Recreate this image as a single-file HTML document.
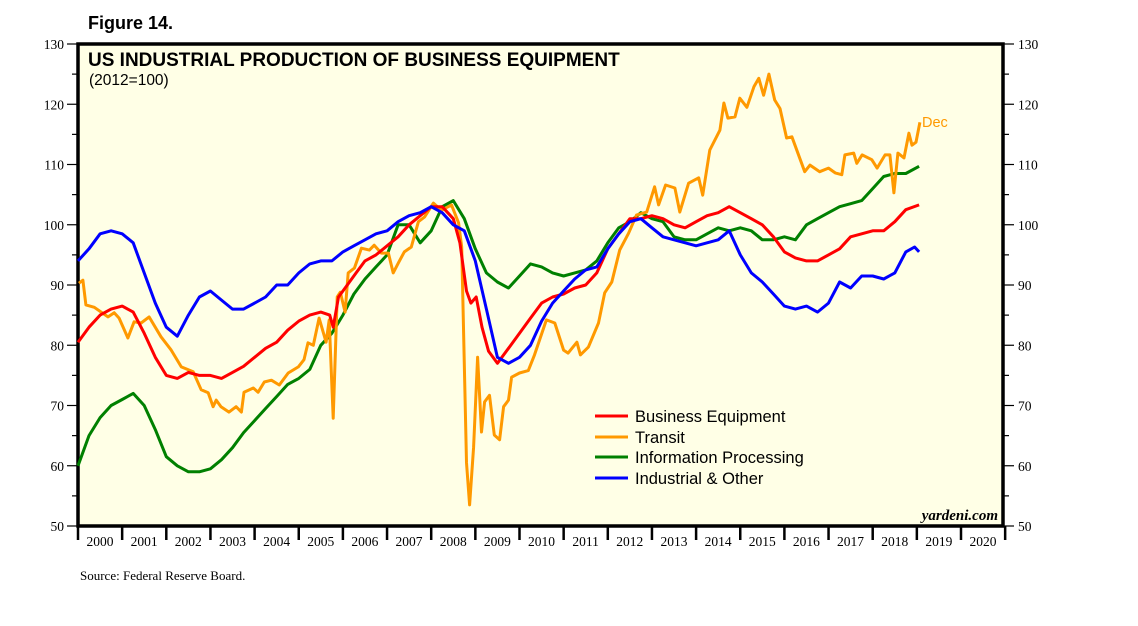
<!DOCTYPE html>
<html><head><meta charset="utf-8"><style>
body{margin:0;background:#fff;width:1138px;height:621px;overflow:hidden}
svg text{font-family:"Liberation Sans",sans-serif}
.serif{font-family:"Liberation Serif",serif!important}
</style></head><body>
<svg id="chart" width="1138" height="621" xmlns="http://www.w3.org/2000/svg">
<rect x="78" y="44" width="925" height="482" fill="#FFFFE6"/>
<text x="88" y="29" font-size="18" font-weight="bold">Figure 14.</text>
<text x="88" y="66" font-size="19" font-weight="bold">US INDUSTRIAL PRODUCTION OF BUSINESS EQUIPMENT</text>
<text x="89" y="85" font-size="15.5">(2012=100)</text>
<g id="axes"></g>
<g id="series"></g>
<text x="922" y="127" font-size="14.5" fill="#FF9900">Dec</text>
<text x="998" y="520" font-size="15" font-style="italic" font-weight="bold" text-anchor="end" class="serif">yardeni.com</text>
<text x="80" y="580" font-size="13" class="serif">Source: Federal Reserve Board.</text>
<g>
<line x1="595" y1="416" x2="628" y2="416" stroke="#FF0000" stroke-width="3"/>
<text x="635" y="422" font-size="16.5">Business Equipment</text>
<line x1="595" y1="437" x2="628" y2="437" stroke="#FF9900" stroke-width="3"/>
<text x="635" y="443" font-size="16.5">Transit</text>
<line x1="595" y1="457" x2="628" y2="457" stroke="#008000" stroke-width="3"/>
<text x="635" y="463" font-size="16.5">Information Processing</text>
<line x1="595" y1="478" x2="628" y2="478" stroke="#0000FF" stroke-width="3"/>
<text x="635" y="484" font-size="16.5">Industrial &amp; Other</text>
</g>
</svg>
<script>
const yTicks=[50,60,70,80,90,100,110,120,130];
const years=[2000,2001,2002,2003,2004,2005,2006,2007,2008,2009,2010,2011,2012,2013,2014,2015,2016,2017,2018,2019,2020];
const redDates=[0,0.25,0.5,0.75,1,1.25,1.5,1.75,2,2.25,2.5,2.75,3,3.25,3.5,3.75,4,4.25,4.5,4.75,5,5.25,5.5,5.7,5.78,5.9,6.1,6.3,6.5,6.75,7,7.25,7.5,7.75,8,8.25,8.5,8.65,8.8,8.9,9.02,9.15,9.3,9.5,9.75,10,10.25,10.5,10.75,11,11.25,11.5,11.75,12,12.25,12.5,12.75,13,13.25,13.5,13.75,14,14.25,14.5,14.75,15,15.25,15.5,15.75,16,16.25,16.5,16.75,17,17.25,17.5,17.75,18,18.25,18.5,18.75,19.05];
const redValues=[80.5,83,85,86,86.5,85.5,82,78,75,74.5,75.5,75,75,74.5,75.5,76.5,78,79.5,80.5,82.5,84,85,85.5,85,83,88,90,92,94,95,96.5,98,100,101.5,103,103,101,97,89,87,88,83,79,77,79.5,82,84.5,87,88,88.5,89.5,90,92,96,98.5,101,101,101.5,101,100,99.5,100.5,101.5,102,103,102,101,100,98,95.5,94.5,94,94,95,96,98,98.5,99,99,100.5,102.5,103.3];
const blueDates=[0,0.25,0.5,0.75,1,1.25,1.5,1.75,2,2.25,2.5,2.75,3,3.25,3.5,3.75,4,4.25,4.5,4.75,5,5.25,5.5,5.75,6,6.25,6.5,6.75,7,7.25,7.5,7.75,8,8.25,8.5,8.75,9,9.25,9.5,9.75,10,10.25,10.5,10.75,11,11.25,11.5,11.75,12,12.25,12.5,12.75,13,13.25,13.5,13.75,14,14.25,14.5,14.75,15,15.25,15.5,15.75,16,16.25,16.5,16.75,17,17.25,17.5,17.75,18,18.25,18.5,18.75,18.95,19.05];
const blueValues=[94,96,98.5,99,98.5,97,92,87,83,81.5,85,88,89,87.5,86,86,87,88,90,90,92,93.5,94,94,95.5,96.5,97.5,98.5,99,100.5,101.5,102,103,102,100,99,94,86,78,77,78,80,84,87,89,91,92.5,93,96,98.5,100.5,101,99.5,98,97.5,97,96.5,97,97.5,99,95,92,90.5,88.5,86.5,86,86.5,85.5,87,90.5,89.5,91.5,91.5,91,92,95.5,96.3,95.5];
const greenDates=[0,0.25,0.5,0.75,1,1.25,1.5,1.75,2,2.25,2.5,2.75,3,3.25,3.5,3.75,4,4.25,4.5,4.75,5,5.25,5.5,5.75,6,6.25,6.5,6.75,7,7.25,7.5,7.75,8,8.25,8.5,8.75,9,9.25,9.5,9.75,10,10.25,10.5,10.75,11,11.25,11.5,11.75,12,12.25,12.5,12.75,13,13.25,13.5,13.75,14,14.25,14.5,14.75,15,15.25,15.5,15.75,16,16.25,16.5,16.75,17,17.25,17.5,17.75,18,18.25,18.5,18.75,19.05];
const greenValues=[60,65,68,70,71,72,70,66,61.5,60,59,59,59.5,61,63,65.5,67.5,69.5,71.5,73.5,74.5,76,80,82,85,88.5,91,93,95,100,100,97,99,103,104,101,96,92,90.5,89.5,91.5,93.5,93,92,91.5,92,92.5,94,97,99.5,100.5,102,101,100.5,98,97.5,97.5,98.5,99.5,99,99.5,99,97.5,97.5,98,97.5,100,101,102,103,103.5,104,106,108,108.5,108.5,109.7];
const orangeDates=[0.02,0.11,0.18,0.37,0.68,0.82,0.93,1.13,1.27,1.43,1.61,1.88,2.11,2.34,2.61,2.79,2.95,3.06,3.13,3.24,3.42,3.58,3.7,3.76,3.97,4.08,4.22,4.38,4.56,4.76,4.99,5.12,5.21,5.33,5.46,5.62,5.69,5.78,5.87,5.94,6.05,6.12,6.26,6.42,6.6,6.71,6.87,7.03,7.14,7.26,7.39,7.55,7.71,7.85,8.05,8.23,8.46,8.62,8.69,8.8,8.87,8.96,9.05,9.14,9.21,9.32,9.43,9.55,9.64,9.75,9.82,10.0,10.2,10.34,10.61,10.8,11.0,11.1,11.3,11.38,11.56,11.79,11.93,12.09,12.27,12.47,12.65,12.88,13.06,13.15,13.31,13.52,13.63,13.83,14.06,14.15,14.31,14.54,14.63,14.72,14.88,14.99,15.15,15.31,15.42,15.53,15.65,15.78,15.9,16.05,16.17,16.46,16.58,16.8,17.0,17.15,17.3,17.37,17.57,17.64,17.76,17.98,18.1,18.28,18.39,18.48,18.57,18.71,18.82,18.89,18.98,19.07];
const orangeValues=[90.3,90.8,86.7,86.3,84.7,85.4,84.5,81.2,83.9,83.7,84.7,81.4,79.2,76.4,75.6,72.6,72.1,69.8,70.9,69.8,68.9,69.8,68.9,72.2,72.9,72.2,73.9,74.2,73.4,75.4,76.4,77.6,80.4,80,84.5,80.5,84.2,67.9,88,88.8,85.5,92,92.8,96.1,95.8,96.6,95.3,95.3,92,93.7,95.5,96.3,100.5,101.3,103.6,102.4,103.3,100.3,96.3,60.5,53.5,63.1,78,65.6,70.6,71.7,65.1,64.3,69.8,70.9,74.7,75.4,75.8,78.4,84.2,83.7,79.2,78.7,80.5,78.4,79.7,83.7,88.7,90.5,95.8,98.6,101.6,102.1,106.3,103.3,106.6,106.1,102.1,106.9,107.8,104.9,112.4,115.7,120.2,117.7,117.9,121,119.5,122.9,124.3,121.5,125,120.7,119.3,114.4,114.6,108.8,109.9,108.8,109.4,108.6,108.3,111.6,111.9,110.2,111.6,110.8,109.4,111.6,111.6,105.3,111.9,111.1,115.2,113.2,113.7,117];

const X0=78,YW=44.15,Y0=526,PX=6.025;
const xs=d=>X0+d*YW;
const ys=v=>Y0-(v-50)*PX;
const NS='http://www.w3.org/2000/svg';
const axes=document.getElementById('axes'),series=document.getElementById('series');
function mk(tag,attrs,parent){const e=document.createElementNS(NS,tag);for(const k in attrs)e.setAttribute(k,attrs[k]);parent.appendChild(e);return e;}

yTicks.forEach(v=>{
  const y=ys(v);
  mk('line',{x1:67,y1:y,x2:78,y2:y,stroke:'#000','stroke-width':1.2},axes);
  mk('line',{x1:1003,y1:y,x2:1014,y2:y,stroke:'#000','stroke-width':1.2},axes);
  if(v<130){const y2=ys(v+5);
    mk('line',{x1:72,y1:y2,x2:78,y2:y2,stroke:'#000','stroke-width':1.2},axes);
    mk('line',{x1:1003,y1:y2,x2:1009,y2:y2,stroke:'#000','stroke-width':1.2},axes);}
  const t1=mk('text',{x:64,y:y+5,'font-size':13.5,'text-anchor':'end',class:'serif'},axes);t1.textContent=v;
  
  
  const t2=mk('text',{x:1018,y:y+5,'font-size':13.5,class:'serif'},axes);t2.textContent=v;
  
  
});
years.forEach((yr,i)=>{
  const x=xs(i);
  mk('line',{x1:x,y1:526,x2:x,y2:540,stroke:'#000','stroke-width':2.5},axes);
  const t=mk('text',{x:x+22,y:546,'font-size':13.5,'text-anchor':'middle',class:'serif'},axes);t.textContent=yr;
  
  
});
mk('line',{x1:xs(21),y1:526,x2:xs(21),y2:540,stroke:'#000','stroke-width':2.5},axes);
const frame=mk('rect',{x:78,y:44,width:925,height:482,fill:'none',stroke:'#000','stroke-width':3.5},axes);



function line(dates,vals,color,name){
  const p=mk('polyline',{points:dates.map((d,i)=>xs(d).toFixed(1)+','+ys(vals[i]).toFixed(1)).join(' '),fill:'none',stroke:color,'stroke-width':3,'stroke-linejoin':'round'},series);
  
  
}
line(greenDates,greenValues,'#008000','series-information-processing');
line(orangeDates,orangeValues,'#FF9900','series-transit');
line(redDates,redValues,'#FF0000','series-business-equipment');
line(blueDates,blueValues,'#0000FF','series-industrial-other');
</script>
</body></html>
